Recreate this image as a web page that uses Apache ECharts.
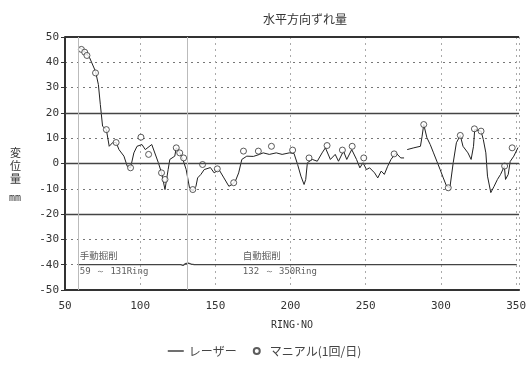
<!DOCTYPE html>
<html><head><meta charset="utf-8">
<script src="https://cdn.jsdelivr.net/npm/echarts@6/dist/echarts.min.js"></script>
<style>html,body{margin:0;padding:0;background:#fff}#c{width:529px;height:365px}</style>
</head><body><div id="c"></div>
<script>
// Laser measurements: [RING NO, displacement mm]; '-' marks a gap in the record
const laserData = [[59.8,45.8],[63.1,44.3],[66.3,41.9],[70.3,36.4],[72.2,31.2],[73.5,23.3],[75,14.7],[77.5,13.4],[79.4,6.8],[81.6,8.2],[84,8.3],[85.9,5.5],[89.2,2.9],[91.4,-1.1],[93.6,-1.7],[95.8,4.2],[97.9,6.8],[101.2,7.5],[103.4,5.5],[107.7,7.5],[112.1,0.3],[114.2,-3.7],[116.5,-10.3],[118.6,-2.4],[119.7,1.6],[123,2.9],[124,6.2],[126.3,4.2],[128.4,1.6],[130.6,-2.4],[132.8,-9.6],[135,-10.9],[137.1,-9],[138.2,-5.7],[140.4,-4.3],[142.6,-2.4],[146.7,-1.6],[149.2,-3.7],[152.4,-2.4],[155.7,-5.7],[159,-9],[161.1,-8.3],[163.3,-7],[165.5,-3.7],[167.6,1.6],[170.9,2.9],[175.3,2.8],[179.4,3.6],[181.8,4.2],[185.9,3.6],[190.5,4.2],[194.4,3.6],[199.2,4.2],[202.3,4],[204.7,-0.4],[206.9,-5],[209,-8.3],[210.1,-6.3],[211.2,0.3],[214.5,1.6],[217.8,0.9],[221,4.2],[223.2,6.2],[226.5,1.6],[229.7,3.6],[231.9,0.9],[235.2,4.9],[237.4,1.6],[240.7,5.5],[243.9,1.6],[246.1,-1.7],[248.2,0.3],[250.5,-2.4],[252.6,-1.7],[255.9,-3.7],[258,-5.7],[260.3,-3],[262.4,-4.3],[264.6,-1.1],[266.8,1.6],[270.1,4.2],[273.3,2.2],[275.5,2.2],[276.5,'-'],[277.6,5.5],[282,6.2],[286.4,6.8],[287.5,10.8],[288.6,15.4],[290.7,10.2],[292.9,7.5],[295.1,4.2],[297.3,0.9],[299.5,-2.4],[301.6,-5.7],[303.8,-9],[306,-9.5],[308.2,0.3],[310.3,8.2],[312.9,11.1],[314.7,6.8],[318,4.2],[320.1,1.6],[321.7,6.8],[322.5,13.4],[326.7,12.8],[328.2,9.5],[329.9,4.2],[331,-5],[333.2,-11.5],[335.4,-9],[337.6,-6.3],[339.7,-4.3],[342.2,-1.1],[343,-6.3],[344.8,-4.3],[346.1,0.8],[348.5,2.9],[351.3,6.3]];
// Manual measurements (once a day)
const manualData = [[60.9,45.1],[63.1,44],[64.6,42.7],[70.3,35.8],[77.5,13.4],[84,8.3],[93.6,-1.7],[100.5,10.4],[105.6,3.6],[114.2,-3.7],[116.5,-6.3],[124,6.2],[126.3,4.2],[128.9,2.2],[135,-10.3],[141.5,-0.4],[151.3,-2.1],[162.2,-7.6],[168.7,4.9],[178.6,4.9],[187.3,6.8],[201.4,5.3],[212.3,2.2],[224.3,7.1],[234.5,5.3],[241,6.8],[248.7,2.2],[268.9,3.8],[288.6,15.4],[304.9,-9.6],[312.9,11.1],[322.3,13.7],[326.7,12.8],[342.4,-1],[347.4,6.2]];
// Section separator line at -40 with a small kink at the boundary
const sepLine = [[59,-40],[127,-40],[128.5,-40.3],[130,-39.6],[132,-39.4],[134,-39.8],[136,-40],[350,-40]];
const sectionBounds = [59, 131.5];
const solidY = [20, 0, -20];
const xTicks = [50,100,150,200,250,300,350];
const annotations = [
  {value:[59.8,-36.4], text:'手動掘削', mono:false},
  {value:[59.8,-42.7], text:'59 ～ 131Ring', mono:true},
  {value:[168.3,-36.4], text:'自動掘削', mono:false},
  {value:[168.3,-42.7], text:'132 ～ 350Ring', mono:true}
];
const title = '水平方向ずれ量';
const xName = 'RING·NO';
const seriesNames = ['レーザー', 'マニアル(1回/日)'];

const chart = echarts.init(document.getElementById('c'), null, {renderer:'canvas'});
const mono = '"DejaVu Sans Mono", monospace';
const jp = '"Noto Sans CJK JP", sans-serif';
chart.setOption({
  backgroundColor:'#fff',
  animation:false,
  title:{text:title, left:300, top:8, textAlign:'center',
    textStyle:{fontFamily:jp, fontSize:12, fontWeight:'normal', color:'#333'}},
  grid:{left:65, top:37, right:4, bottom:75},
  legend:{bottom:3, left:'center', itemGap:16, itemWidth:16, itemHeight:6,
    textStyle:{fontFamily:jp, fontSize:12, color:'#444'},
    data:[{name:seriesNames[0], icon:'path://M0,0H16V1.3H0Z'}, {name:seriesNames[1]}]},
  xAxis:{type:'value', min:50, max:352, interval:50,
    name:xName, nameLocation:'middle', nameGap:30,
    nameTextStyle:{fontFamily:mono, fontSize:10, color:'#333'},
    axisLine:{show:true, onZero:false, lineStyle:{color:'#333', width:2}},
    axisTick:{show:false},
    axisLabel:{fontFamily:mono, fontSize:11, color:'#333', margin:11,
      formatter:v=> xTicks.indexOf(v)>=0 ? String(v) : ''},
    splitLine:{show:true, lineStyle:{color:'#aaa', type:[2,4], width:1}}},
  yAxis:{type:'value', min:-50, max:50, interval:10,
    axisLine:{show:true, lineStyle:{color:'#333', width:2}},
    axisTick:{show:true, length:4, lineStyle:{color:'#333'}},
    axisLabel:{fontFamily:mono, fontSize:11, color:'#333', margin:6},
    splitLine:{show:true, lineStyle:{color:'#777', type:[2,4], width:1}}},
  graphic:[
    {type:'text', left:10, top:146, style:{text:'変\n位\n量', fontFamily:jp, fontSize:11, lineHeight:13, fill:'#333'}},
    {type:'text', left:9, top:193, style:{text:'mm', fontFamily:mono, fontSize:10, fill:'#333'}}
  ],
  series:[
    {name:seriesNames[0], type:'line', data:laserData, symbol:'none', connectNulls:false,
      lineStyle:{color:'#222', width:1}, itemStyle:{color:'#222'}, z:3,
      markLine:{silent:true, symbol:'none', label:{show:false},
        data:[
          ...solidY.map(v=>({yAxis:v, lineStyle:{color:'#444', width:1.4, type:'solid'}})),
          {yAxis:50, lineStyle:{color:'#333', width:2, type:'solid'}},
          ...sectionBounds.map(v=>({xAxis:v, lineStyle:{color:'#bbb', width:1, type:'solid'}}))
        ]}},
    {name:seriesNames[1], type:'scatter', data:manualData, symbol:'circle', symbolSize:6,
      itemStyle:{color:'#fff', borderColor:'#333', borderWidth:1}, z:4},
    {name:'sep', type:'line', data:sepLine, symbol:'none', lineStyle:{color:'#444', width:1.3}, z:2},
    {name:'ann', type:'scatter', data:annotations.map(a=>({value:a.value,
        label:{formatter:a.text, fontFamily:a.mono?mono:jp, fontSize:a.mono?9:9.5}})),
      symbolSize:0, silent:true,
      label:{show:true, position:'right', distance:0, color:'#333'}}
  ]
});
</script></body></html>
